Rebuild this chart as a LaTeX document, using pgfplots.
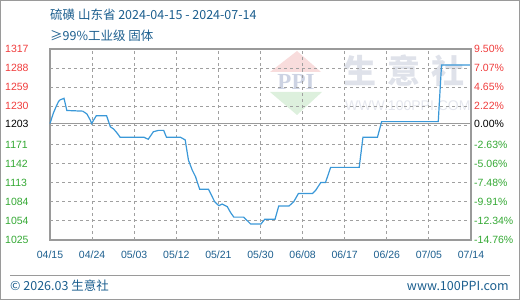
\documentclass[border=0pt]{standalone}
\usepackage{pgfplots}
\pgfplotsset{compat=1.18}
\usepackage{fontspec}
\setmainfont{Liberation Sans}
\newfontfamily\cjk{Noto Sans CJK SC}
\newfontfamily\serifwm{Liberation Serif}
\definecolor{tblue}{HTML}{1B5E8E}
\definecolor{cred}{HTML}{F03C3C}
\definecolor{cgreen}{HTML}{33A833}
\definecolor{lblue}{HTML}{3A98D8}
\definecolor{framec}{HTML}{9A9A9A}
\definecolor{gridc}{HTML}{A0A0A0}
\definecolor{wmtext}{HTML}{DFE2EA}
\definecolor{wmppi}{HTML}{CDD3E3}
\definecolor{wmpink}{HTML}{F8DCDC}
\definecolor{wmgreen}{HTML}{DDF0DD}

\pgfplotstableread{
day val
0 1203
0.7 1218.7
1.3 1228.8
1.8 1236.4
2.1 1239
3 1241.6
3.6 1223
7 1222
7.9 1217.6
8.6 1208.4
8.9 1203
9.3 1208
9.9 1215
12.1 1215
12.9 1198
13.6 1194.7
14.4 1188
15 1182
20.1 1182
21 1179
22.1 1190.5
23.2 1192.6
24.3 1192.6
24.9 1182
27.9 1182
28.9 1178
29.6 1147
30.4 1132
31.1 1122
32 1102.5
33.9 1102.5
35.2 1083.5
36.1 1077.4
36.8 1080
37.9 1076
38.6 1067
39.3 1060
41.4 1060
42.9 1049.4
45.1 1049.4
45.9 1056.6
48.1 1056.6
48.9 1077
51.1 1077
52.1 1083.5
53.1 1096
56.1 1096
56.8 1101
57.9 1113
58.9 1113
60 1136
66.1 1136
66.9 1182
70 1182
70.9 1206
83 1206
83.7 1292.5
90 1292.5
}\pricedata

\begin{document}
\begin{tikzpicture}
% titles
\node[anchor=west, inner sep=0pt, text=tblue, font=\cjk\fontsize{12.5}{14}\selectfont] at (50pt,285pt) {硫磺 山东省 2024-04-15 - 2024-07-14};
\node[anchor=west, inner sep=0pt, text=tblue, font=\cjk\fontsize{12.5}{14}\selectfont] at (50pt,264pt) {≥99\%工业级 固体};
% watermark
\fill[wmpink] (270pt,228pt) -- (321pt,228pt) -- (297pt,249pt) -- cycle;
\fill[wmgreen] (270pt,208pt) -- (322pt,208pt) -- (297pt,185pt) -- cycle;
\node[inner sep=0pt, text=wmppi, font=\serifwm\fontsize{23}{23}\selectfont\bfseries] at (296pt,218pt) {PPI};
\node[anchor=west, inner sep=0pt, text=wmtext, font=\cjk\fontsize{33}{33}\selectfont\bfseries] at (343pt,229pt) {生\,\,意\,\,社};
\node[anchor=west, inner sep=0pt, text=wmtext!85!white, font=\fontsize{14}{14}\selectfont] at (345pt,194pt) {WWW.100PPI.COM};
% footer
\draw[framec, line width=1pt] (10pt,24.5pt) -- (510pt,24.5pt);
\node[anchor=west, inner sep=0pt, text=tblue, font=\cjk\fontsize{12.5}{14}\selectfont] at (10pt,14pt) {© 2026.03 生意社};
\node[anchor=east, inner sep=0pt, text=tblue, font=\cjk\fontsize{12.5}{14}\selectfont] at (509pt,14pt) {www.100PPI.com};

\begin{axis}[
  name=main,
  at={(50pt,60pt)}, anchor=south west,
  scale only axis, width=421pt, height=191pt,
  xmin=0, xmax=90, ymin=1025, ymax=1317,
  axis line style={framec, line width=1.1pt},
  xtick={0,9,...,90},
  xticklabels={04/15,04/24,05/03,05/12,05/21,05/30,06/08,06/17,06/26,07/05,07/14},
  xticklabel style={text=tblue, font=\fontsize{10.5}{12}\selectfont, yshift=-7pt},
  ytick={1025,1054.2,1083.4,1112.6,1141.8,1171,1203,1229.4,1258.6,1287.8,1317},
  yticklabels={\textcolor{cgreen}{1025},\textcolor{cgreen}{1054},\textcolor{cgreen}{1084},\textcolor{cgreen}{1113},\textcolor{cgreen}{1142},\textcolor{cgreen}{1171},\textcolor{black}{1203},\textcolor{cred}{1230},\textcolor{cred}{1259},\textcolor{cred}{1288},\textcolor{cred}{1317}},
  yticklabel style={anchor=west, inner sep=0pt, xshift=-45pt, font=\fontsize{10.5}{12}\selectfont},
  major tick length=0pt,
  clip=false,
]
\pgfplotsinvokeforeach{9,18,27,36,45,54,63,72,81}{
  \draw[gridc, line width=1pt, dash pattern=on 3pt off 3pt] (axis cs:#1,1025) -- (axis cs:#1,1317);
}
\pgfplotsinvokeforeach{1054.2,1083.4,1112.6,1141.8,1171,1200.2,1229.4,1258.6,1287.8}{
  \draw[gridc, line width=1pt, dash pattern=on 3pt off 3pt] (axis cs:0,#1) -- (axis cs:90,#1);
}
\draw[framec, line width=1.1pt] (axis cs:0,1203) -- (axis cs:90,1203);
\addplot[lblue, line width=1.2pt, mark=none] table[x=day, y=val] {\pricedata};
\end{axis}
\begin{axis}[
  at={(50pt,60pt)}, anchor=south west,
  scale only axis, width=421pt, height=191pt,
  xmin=0, xmax=90, ymin=1025, ymax=1317,
  axis x line=none,
  axis y line*=right,
  axis line style={framec, line width=1.1pt},
  ytick={1025,1054.2,1083.4,1112.6,1141.8,1171,1203,1229.4,1258.6,1287.8,1317},
  yticklabels={\textcolor{cgreen}{-14.76\%},\textcolor{cgreen}{-12.34\%},\textcolor{cgreen}{-9.91\%},\textcolor{cgreen}{-7.48\%},\textcolor{cgreen}{-5.06\%},\textcolor{cgreen}{-2.63\%},\textcolor{black}{0.00\%},\textcolor{cred}{2.22\%},\textcolor{cred}{4.65\%},\textcolor{cred}{7.07\%},\textcolor{cred}{9.50\%}},
  yticklabel style={anchor=west, inner sep=0pt, xshift=3pt, font=\fontsize{10.5}{12}\selectfont},
  major tick length=0pt,
]
\addplot[draw=none] coordinates {(0,1203)};
\end{axis}
\draw[framec, line width=1pt] (0.5pt,0.5pt) rectangle (519.5pt,299.5pt);
\end{tikzpicture}
\end{document}
